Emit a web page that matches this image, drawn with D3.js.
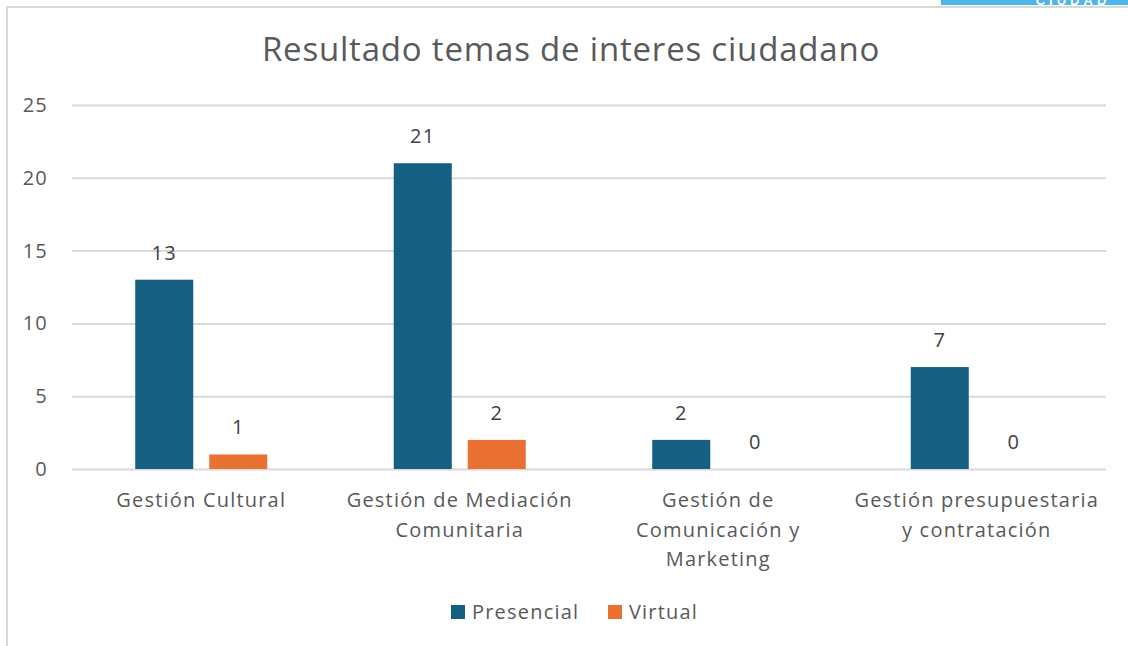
<!DOCTYPE html>
<html>
<head>
<meta charset="utf-8">
<script src="https://cdnjs.cloudflare.com/ajax/libs/d3/7.8.5/d3.min.js"></script>
<style>
  body { margin: 0; background: #fff; }
  svg { display: block; font-family: "Open Sans", "Noto Sans", sans-serif; }
  .body-txt { font-size: 20px; letter-spacing: 1.2px; }
</style>
</head>
<body>
<svg id="chart" width="1128" height="646"></svg>
<script>
// chart data
var categories = ["Gestión Cultural", "Gestión de Mediación Comunitaria", "Gestión de Comunicación y Marketing", "Gestión presupuestaria y contratación"];
var categoryLines = [["Gestión Cultural"], ["Gestión de Mediación", "Comunitaria"], ["Gestión de", "Comunicación y", "Marketing"], ["Gestión presupuestaria", "y contratación"]];
var seriesNames = ["Presencial", "Virtual"];
var presencial = [13, 21, 2, 7];
var virtual = [1, 2, 0, 0];
var yTicks = [0, 5, 10, 15, 20, 25];
var colors = ["#156082", "#E97132"];

var svg = d3.select("#chart");

// frame + top banner
svg.append("rect").attr("x", 941).attr("y", 0).attr("width", 187).attr("height", 5).attr("fill", "#4DB5E8");
svg.append("text").attr("x", 1073).attr("y", 5).attr("text-anchor", "middle")
   .style("font-family", "Liberation Sans, Arial").style("font-weight", "bold")
   .style("font-size", "13px").style("letter-spacing", "4px").attr("fill", "#fff").text("CIUDAD");
svg.append("path").attr("d", "M7,646 V7 H1128").attr("fill", "none").attr("stroke", "#d9d9d9").attr("stroke-width", 2);

var margin = { left: 72, right: 1106, top: 105, bottom: 469 };

var y = d3.scaleLinear().domain([0, 25]).range([margin.bottom, margin.top]);
var x0 = d3.scaleBand().domain(categories).range([margin.left, margin.right]);
var x1 = d3.scaleBand().domain(seriesNames).range([0, 132]).paddingInner(16 / 74);
var groupOffset = (x0.bandwidth() - 132) / 2;

// title
svg.append("text").attr("x", 571).attr("y", 61).attr("text-anchor", "middle")
   .style("font-size", "33px").style("letter-spacing", "0.8px").attr("fill", "#595959").text("Resultado temas de interes ciudadano");

// gridlines + y labels
var yAxis = d3.axisLeft(y).tickValues(yTicks).tickSize(-(margin.right - margin.left)).tickPadding(24);
var gy = svg.append("g").attr("transform", "translate(" + margin.left + ",0)").call(yAxis);
gy.select(".domain").remove();
gy.selectAll("line").attr("stroke", "#d9d9d9").attr("stroke-width", 2);
gy.selectAll("text").attr("fill", "#595959").attr("class", "body-txt").style("font-family", "Open Sans, sans-serif");

// bars
var table = categories.map(function(c, i){ return { cat: c, vals: [presencial[i], virtual[i]] }; });
var groups = svg.selectAll(".grp").data(table).enter().append("g")
   .attr("transform", function(d){ return "translate(" + (x0(d.cat) + groupOffset) + ",0)"; });

groups.selectAll("rect").data(function(d){ return d.vals.map(function(v, j){ return { s: seriesNames[j], v: v, j: j }; }); })
   .enter().append("rect")
   .attr("x", function(d){ return x1(d.s); })
   .attr("y", function(d){ return y(d.v); })
   .attr("width", x1.bandwidth())
   .attr("height", function(d){ return y(0) - y(d.v); })
   .attr("fill", function(d){ return colors[d.j]; });

groups.selectAll(".lbl").data(function(d){ return d.vals.map(function(v, j){ return { s: seriesNames[j], v: v }; }); })
   .enter().append("text")
   .attr("class", "body-txt")
   .attr("x", function(d){ return x1(d.s) + x1.bandwidth() / 2; })
   .attr("y", function(d){ return y(d.v) - 20; })
   .attr("text-anchor", "middle").attr("fill", "#404040")
   .text(function(d){ return d.v; });

// category labels
categories.forEach(function(c, i){
    var t = svg.append("text").attr("class", "body-txt").attr("text-anchor", "middle").attr("fill", "#595959");
    categoryLines[i].forEach(function(line, k){
        t.append("tspan").attr("x", x0(c) + x0.bandwidth() / 2).attr("y", 507 + k * 29.5).text(line);
    });
});

// legend
var legX = [451, 608];
seriesNames.forEach(function(s, i){
    svg.append("rect").attr("x", legX[i]).attr("y", 605).attr("width", 14).attr("height", 14).attr("fill", colors[i]);
    svg.append("text").attr("class", "body-txt").attr("x", legX[i] + 21).attr("y", 619).attr("fill", "#595959").text(s);
});
</script>
</body>
</html>
